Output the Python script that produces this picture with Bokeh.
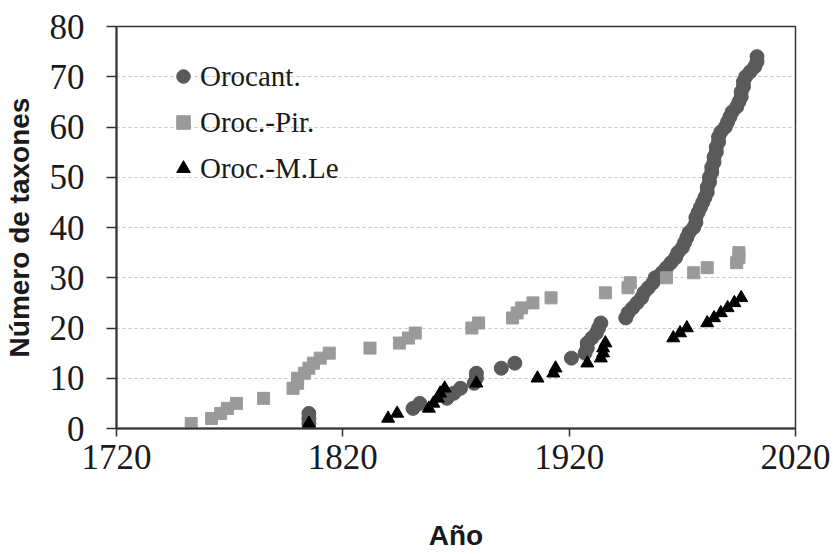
from bokeh.plotting import figure
from bokeh.models import Range1d, FixedTicker, Legend, LegendItem
from bokeh.embed import file_html
from bokeh.resources import INLINE

# Orocant. (cumulative number of taxa by year)
orocant_year = [1805, 1805, 1805, 1851, 1854, 1866, 1869, 1872, 1878, 1879, 1879, 1890, 1896,
                1921, 1927, 1928, 1928, 1930, 1932, 1933, 1934,
                1945, 1946, 1948, 1950, 1952, 1953, 1955, 1957, 1958, 1961, 1963, 1965, 1967,
                1968, 1970, 1971, 1972, 1973, 1975, 1976, 1976, 1977, 1978, 1979, 1980, 1981,
                1981, 1982, 1982, 1983, 1983, 1984, 1984, 1985, 1985, 1986, 1986, 1987, 1989,
                1990, 1991, 1992, 1994, 1995, 1996, 1996, 1997, 1997, 1998, 2000, 2002, 2003, 2003]
orocant_count = [1, 2, 3, 4, 5, 6, 7, 8, 9, 10, 11, 12, 13,
                 14, 15, 16, 17, 18, 19, 20, 21,
                 22, 23, 24, 25, 26, 27, 28, 29, 30, 31, 32, 33, 34,
                 35, 36, 37, 38, 39, 40, 41, 42, 43, 44, 45, 46, 47,
                 48, 49, 50, 51, 52, 53, 54, 55, 56, 57, 58, 59, 60,
                 61, 62, 63, 64, 65, 66, 67, 68, 69, 70, 71, 72, 73, 74]

# Oroc.-Pir.
pir_year = [1753, 1762, 1766, 1769, 1773, 1785, 1798, 1800, 1800, 1803, 1805, 1807, 1810, 1814,
            1832, 1845, 1849, 1852, 1877, 1880, 1895, 1897, 1899, 1904, 1912,
            1936, 1946, 1947, 1963, 1975, 1981, 1994, 1995, 1995]
pir_count = [1, 2, 3, 4, 5, 6, 8, 9, 10, 11, 12, 13, 14, 15,
             16, 17, 18, 19, 20, 21, 22, 23, 24, 25, 26,
             27, 28, 29, 30, 31, 32, 33, 34, 35]

# Oroc.-M.Le
mle_year = [1805, 1840, 1844, 1858, 1860, 1862, 1863, 1865, 1879, 1906, 1913, 1914,
            1928, 1934, 1935, 1935, 1936, 1966, 1969, 1972, 1981, 1984, 1987, 1990, 1993, 1996]
mle_count = [1, 2, 3, 4, 5, 6, 7, 8, 9, 10, 11, 12,
             13, 14, 15, 16, 17, 18, 19, 20, 21, 22, 23, 24, 25, 26]

series_labels = ["Orocant.", "Oroc.-Pir.", "Oroc.-M.Le"]
x_ticks = [1720, 1820, 1920, 2020]
y_ticks = [0, 10, 20, 30, 40, 50, 60, 70, 80]

p = figure(width=833, height=554, output_backend="svg", toolbar_location=None,
           x_range=Range1d(1720, 2020), y_range=Range1d(0, 80),
           min_border_left=115, min_border_right=38, min_border_top=26, min_border_bottom=126,
           x_axis_label="Año", y_axis_label="Número de taxones")

p.background_fill_color = "white"
p.border_fill_color = "white"
p.outline_line_color = "#333333"
p.outline_line_width = 1.5

p.xgrid.visible = False
p.ygrid.ticker = FixedTicker(ticks=y_ticks)
p.ygrid.grid_line_color = "#c4c4c4"
p.ygrid.grid_line_dash = "3 3"
p.ygrid.grid_line_width = 1

serif = "Liberation Serif"
sans = "Liberation Sans"

for ax, ticks in ((p.xaxis[0], x_ticks), (p.yaxis[0], y_ticks)):
    ax.ticker = FixedTicker(ticks=ticks)
    ax.minor_tick_line_color = None
    ax.axis_line_color = "#333333"
    ax.axis_line_width = 2
    ax.major_tick_line_color = "#333333"
    ax.major_tick_line_width = 1.5
    ax.major_tick_in = 0
    ax.major_label_text_font = serif
    ax.major_label_text_font_size = "35px"
    ax.major_label_text_color = "#1a1a1a"
    ax.axis_label_text_font = sans
    ax.axis_label_text_font_style = "bold"
    ax.axis_label_text_font_size = "28px"
    ax.axis_label_text_color = "#1a1a1a"

p.xaxis.major_tick_out = 8
p.xaxis.major_label_standoff = 8
p.xaxis.axis_label_standoff = 48
p.yaxis.major_tick_out = 10
p.yaxis.major_label_standoff = 22
p.yaxis.axis_label_standoff = 12

r1 = p.scatter(orocant_year, orocant_count, marker="circle", size=14,
               fill_color="#5a5a5a", line_color="#5a5a5a")
r2 = p.scatter(pir_year, pir_count, marker="square", size=12,
               fill_color="#9a9a9a", line_color="#9a9a9a")
r3 = p.scatter(mle_year, mle_count, marker="triangle", size=13,
               fill_color="#000000", line_color="#000000")

legend = Legend(items=[LegendItem(label=series_labels[0], renderers=[r1]),
                       LegendItem(label=series_labels[1], renderers=[r2]),
                       LegendItem(label=series_labels[2], renderers=[r3])],
                location=(50, 242), border_line_color=None, background_fill_alpha=0,
                padding=0, margin=0, spacing=10, label_height=36, glyph_height=36,
                glyph_width=34, label_standoff=0,
                label_text_font=serif, label_text_font_size="29px",
                label_text_color="#1a1a1a")
p.add_layout(legend)

open("out.html", "w").write(file_html(p, INLINE))
